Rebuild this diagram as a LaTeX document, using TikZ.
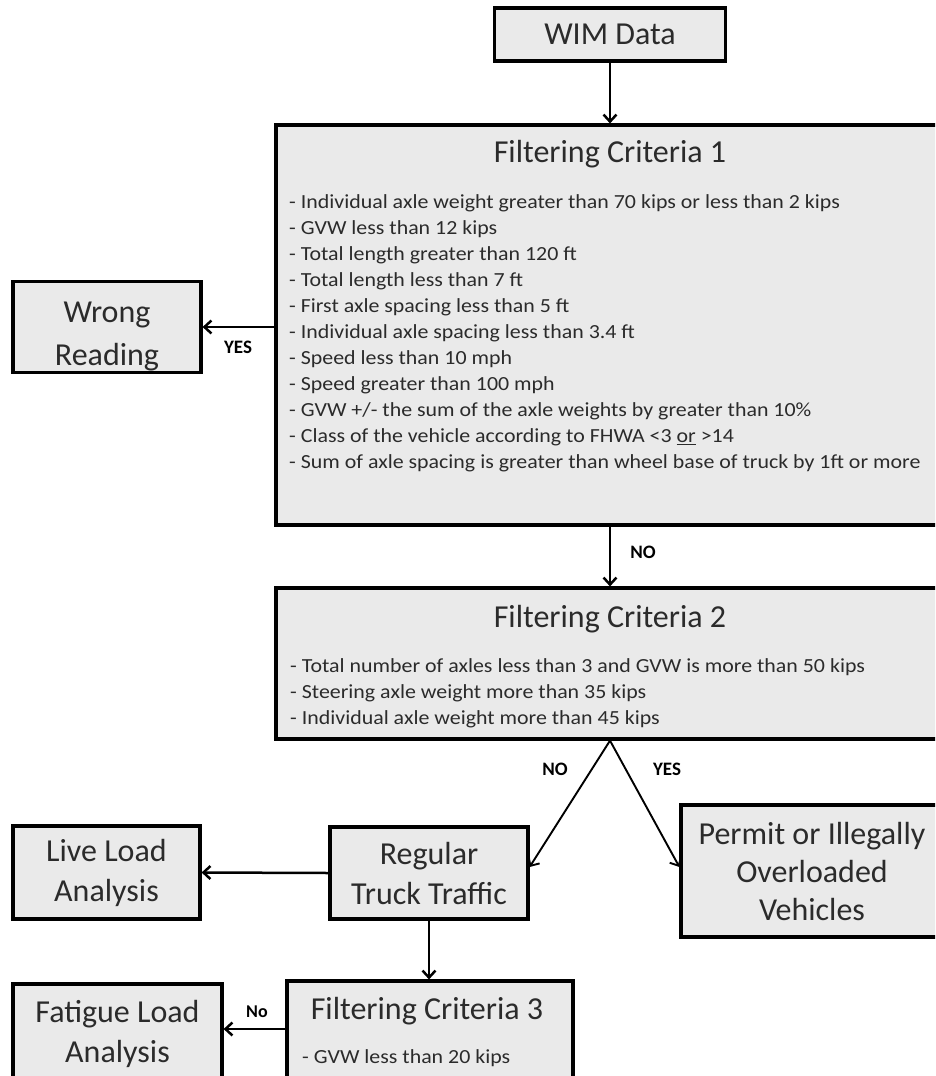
\documentclass[tikz,border=0pt]{standalone}
\usepackage{fontspec}
\setmainfont{Carlito}
\newfontfamily\bodyfont[FakeStretch=1.095]{Carlito}
\usetikzlibrary{arrows.meta,calc}
\definecolor{boxgray}{HTML}{EAEAEA}
\definecolor{txtgray}{HTML}{2B2B2B}
\begin{document}
\begin{tikzpicture}[x=1pt,y=-1pt,
  box/.style={draw=black, line width=3.2pt, fill=boxgray, text=txtgray,
    font=\fontsize{32}{40}\selectfont, align=center, inner sep=0pt},
  ttl/.style={text=txtgray, font=\fontsize{32}{40}\selectfont, inner sep=0pt, anchor=base},
  body/.style={text=txtgray, font=\bodyfont\fontsize{20}{26}\selectfont, inner sep=0pt, anchor=base west},
  lbl/.style={text=black, font=\bfseries\fontsize{19}{22}\selectfont, inner sep=0pt},
  arr/.style={line width=2.5pt, -{Straight Barb[length=7pt,width=13pt]}},
  arrthin/.style={line width=1.9pt, -{Straight Barb[length=7pt,width=13pt]}}]
\useasboundingbox (0,0) rectangle (935,1076);
\clip (0,0) rectangle (935,1076);

% boxes
\node[box, minimum width=231, minimum height=53] (wim) at (610,34.5) {WIM Data};
\node[box, minimum width=668, minimum height=400] (fc1) at (610,325) {};
\node[box, minimum width=188, minimum height=91, font=\fontsize{32}{43}\selectfont] (wrong) at (107,327) {\rule{0pt}{40pt}Wrong\\Reading};
\node[box, minimum width=668, minimum height=151] (fc2) at (610,663.5) {};
\node[box, minimum width=198, minimum height=92] (reg) at (429,873) {Regular\\Truck Traffic};
\node[box, minimum width=187, minimum height=93] (live) at (106.5,872.5) {Live Load\\Analysis};
\node[box, minimum width=262, minimum height=132, font=\fontsize{32}{38}\selectfont] (permit) at (812,871) {Permit or Illegally\\Overloaded\\Vehicles};
\node[box, minimum width=286, minimum height=110] (fc3) at (430,1036) {};
\node[box, minimum width=209, minimum height=100] (fatigue) at (117.5,1034) {Fatigue Load\\Analysis};

% texts inside criteria boxes
\node[ttl] (fc1t) at (610,162) {Filtering Criteria 1};
\foreach \t [count=\i from 0] in {
  - Individual axle weight greater than 70 kips or less than 2 kips,
  - GVW less than 12 kips,
  - Total length greater than 120 ft,
  - Total length less than 7 ft,
  - First axle spacing less than 5 ft,
  - Individual axle spacing less than 3.4 ft,
  - Speed less than 10 mph,
  - Speed greater than 100 mph,
  - GVW +/- the sum of the axle weights by greater than 10\%,
  - Class of the vehicle according to FHWA <3 \underline{or} >14,
  - Sum of axle spacing is greater than wheel base of truck by 1ft or more}
  \node[body] (fc1l\i) at (289,208.5+26*\i) {\t};

\node[ttl] (fc2t) at (610,627) {Filtering Criteria 2};
\foreach \t [count=\i from 0] in {
  - Total number of axles less than 3 and GVW is more than 50 kips,
  - Steering axle weight more than 35 kips,
  - Individual axle weight more than 45 kips}
  \node[body] (fc2l\i) at (290,672.5+26*\i) {\t};

\node[ttl] (fc3t) at (427,1019) {Filtering Criteria 3};
\node[body] (fc3l0) at (302,1063) {- GVW less than 20 kips};

% connectors
\draw[arr] (wim) -- (fc1);
\draw[arr] (fc1) -- (fc2);
\draw[arr] (wrong.east -| fc1.west) -- (wrong.east);
\draw[arrthin] (fc2.south) -- ([yshift=6pt]reg.east);
\draw[arrthin] (fc2.south) -- ([yshift=4pt]permit.west);
\draw[arr] (reg.west) -- (live.east);
\draw[arr] (reg.south) -- (reg.south |- fc3.north);
\coordinate (f3w) at ($(fc3.west)+(0,-7)$);
\draw[arr] (f3w) -- (f3w -| fatigue.east);

% labels
\node[lbl] (yes1) at (238,347) {YES};
\node[lbl] (no1) at (643,552) {NO};
\node[lbl] (no2) at (555,769) {NO};
\node[lbl] (yes2) at (667,769) {YES};
\node[lbl, font=\bfseries\fontsize{18}{20}\selectfont] (no3) at (257,1012) {No};
\end{tikzpicture}
\end{document}
